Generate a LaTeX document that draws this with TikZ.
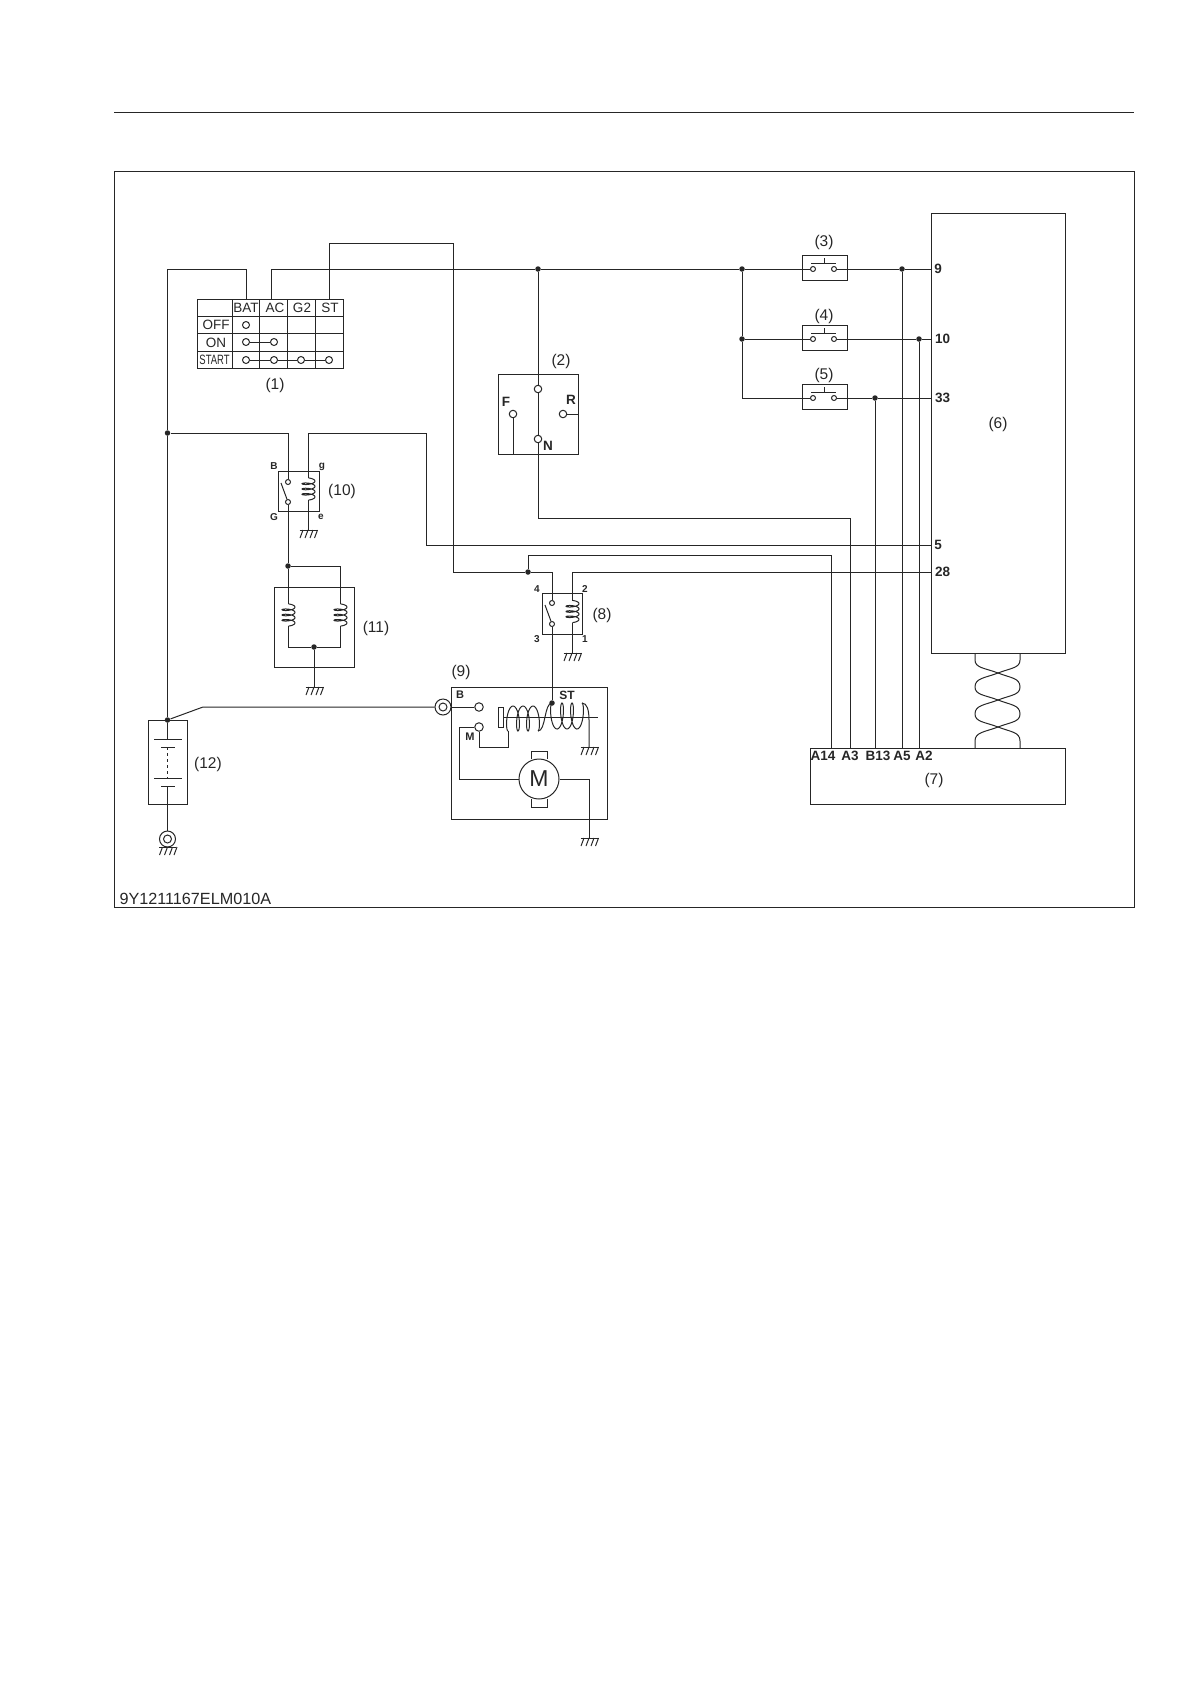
\documentclass[tikz,border=0pt]{standalone}
\usepackage{fontspec}
\setmainfont{Liberation Sans}
\usetikzlibrary{calc}
\newcommand{\relaycoil}[2]{\draw plot[domain=-90:1170,samples=90,smooth] ({#1+.5+6.5*cos(\x)},{#2+(\x-540)*0.0146+1.9*sin(\x)});}

\begin{document}
\begin{tikzpicture}[x=1pt,y=-1pt,line width=1pt,color=black!85,
	box/.style={rectangle,draw,inner sep=0pt},
	term/.style={circle,draw,inner sep=0pt,minimum size=7.5pt},
	jdot/.style={circle,fill,inner sep=0pt,minimum size=5.5pt},
	lbl/.style={inner sep=0pt,yshift=-1.5pt,font=\fontsize{15.5}{16}\selectfont},
	pinl/.style={inner sep=0pt,font=\bfseries\fontsize{13.5}{14}\selectfont},
	tiny/.style={inner sep=0pt,font=\bfseries\fontsize{10}{11}\selectfont},
	gnd/.pic={\draw (-8.5,0) -- (8.5,0);
		\foreach \h in {-5,0,5,9.5} \draw (\h,0) -- (\h-3,8);}]
\useasboundingbox (0,0) rectangle (1190,1684);

% page rule and frame
\draw (114,112) -- (1134,112);
\node[box,minimum width=1020pt,minimum height=736pt] (frame) at (624,539) {};
\node[anchor=west,inner sep=0pt,yshift=-1pt,font=\fontsize{16.2}{17}\selectfont] (code) at (119,898) {9Y1211167ELM010A};

% key switch (1)
\draw (197,299) rectangle (343,368);
\foreach \y in {316,333,351} \draw (197,\y) -- (343,\y);
\foreach \x in {232,259,287,315} \draw (\x,299) -- (\x,368);
\coordinate (bat) at (246,299);
\coordinate (ac) at (271,299);
\coordinate (st) at (329,299);
\node[pinl,font=\fontsize{13.5}{14}\selectfont] (tbat) at (246,308) {BAT};
\node[pinl,font=\fontsize{13.5}{14}\selectfont] (tac) at (275,308) {AC};
\node[pinl,font=\fontsize{13.5}{14}\selectfont] (tg2) at (302,308) {G2};
\node[pinl,font=\fontsize{13.5}{14}\selectfont] (tst) at (330,308) {ST};
\node[pinl,font=\fontsize{13.5}{14}\selectfont] (toff) at (216,325) {OFF};
\node[pinl,font=\fontsize{13.5}{14}\selectfont] (ton) at (216,343) {ON};
\node[pinl,font=\fontsize{13.5}{14}\selectfont] (tstart) at (214.5,360) {\scalebox{.7}[1]{START}};
\node[term,minimum size=7pt] (off1) at (246,325) {};
\node[term,minimum size=7pt] (on1) at (246,342) {};
\node[term,minimum size=7pt] (on2) at (274,342) {};
\node[term,minimum size=7pt] (s1) at (246,360) {};
\node[term,minimum size=7pt] (s2) at (274,360) {};
\node[term,minimum size=7pt] (s3) at (301,360) {};
\node[term,minimum size=7pt] (s4) at (329,360) {};
\draw (on1) -- (on2);
\draw (s1) -- (s2);
\draw (s2) -- (s3);
\draw (s3) -- (s4);
\node[lbl] (l1) at (275,384) {(1)};

% range switch (2)
\node[box,minimum width=80pt,minimum height=80pt] (rng) at (538,414) {};
\node[term] (rt) at (538,389) {};
\node[term] (rn) at (538,439) {};
\node[term] (rf) at (513,414) {};
\node[term] (rr) at (563,414) {};
\node[pinl] (tf) at (506,402) {F};
\node[pinl] (tr) at (571,400) {R};
\node[pinl] (tn) at (548,446) {N};
\node[lbl] (l2) at (561,360) {(2)};
\draw (rt) -- (rn);
\draw (rf) -- (rf |- rng.south);
\draw (rr) -- (rr -| rng.east);

% controller (6), meter (7)
\node[box,minimum width=134pt,minimum height=440pt] (ecu) at (998,433) {};
\node[box,minimum width=255pt,minimum height=56pt] (meter) at (937.5,776) {};
\node[lbl] (l6) at (998,423) {(6)};
\node[lbl] (l7) at (934,779) {(7)};
\node[pinl] (p9) at (938,269) {9};
\node[pinl] (p10) at (942.5,339) {10};
\node[pinl] (p33) at (942.5,398) {33};
\node[pinl] (p5) at (938,545) {5};
\node[pinl] (p28) at (942.5,572) {28};
\node[pinl] (ta14) at (823,756) {A14};
\node[pinl] (ta3) at (850,756) {A3};
\node[pinl] (tb13) at (878,756) {B13};
\node[pinl] (ta5) at (902,756) {A5};
\node[pinl] (ta2) at (924,756) {A2};

% twisted pair
\draw (975,653) -- (975,660) .. controls (975,668) and (985,668) .. (998,673)
	.. controls (1011,678) and (1020,678) .. (1020,687)
	.. controls (1020,695) and (1011,695) .. (998,700)
	.. controls (985,705) and (975,705) .. (975,714)
	.. controls (975,722) and (985,722) .. (998,727)
	.. controls (1011,732) and (1020,732) .. (1020,741) -- (1020,748);
\draw (1020,653) -- (1020,660) .. controls (1020,668) and (1011,668) .. (998,673)
	.. controls (985,678) and (975,678) .. (975,687)
	.. controls (975,695) and (985,695) .. (998,700)
	.. controls (1011,705) and (1020,705) .. (1020,714)
	.. controls (1020,722) and (1011,722) .. (998,727)
	.. controls (985,732) and (975,732) .. (975,741) -- (975,748);

% switches (3) (4) (5)
\foreach \n/\yy in {3/269,4/339,5/398} {
	\node[box,minimum width=45pt,minimum height=25pt] (sw\n) at (824.5,\yy-1.5) {};
	\node[term,minimum size=5pt] (c\n a) at (813,\yy) {};
	\node[term,minimum size=5pt] (c\n b) at (834,\yy) {};
	\draw (811,\yy-6) -- (836,\yy-6);
	\draw (824,\yy-6) -- (824,\yy-11);
}
\node[lbl] (l3) at (824,241) {(3)};
\node[lbl] (l4) at (824,315) {(4)};
\node[lbl] (l5) at (824,374) {(5)};

% junctions on the upper bus
\node[jdot] (j2) at (538,269) {};
\node[jdot] (j3) at (742,269) {};
\node[jdot] (j4) at (742,339) {};
\node[jdot] (ja5) at (902,269) {};
\node[jdot] (ja2) at (919,339) {};
\node[jdot] (jb13) at (875,398) {};
\coordinate (k5) at (742,398);
\draw (bat) -- (246,269) -- (167.5,269);
\draw (ac) |- (j2);
\draw (j2) -- (j3);
\draw (j3) -- (c3a);
\draw (c3b) -- (ja5);
\draw (ja5) -- (ja5 -| ecu.west);
\draw (j3) -- (j4);
\draw (j4) -- (c4a);
\draw (c4b) -- (ja2);
\draw (ja2) -- (ja2 -| ecu.west);
\draw (j4) -- (k5) -- (c5a);
\draw (c5b) -- (jb13);
\draw (jb13) -- (jb13 -| ecu.west);
\draw (ja5) -- (ja5 |- meter.north);
\draw (ja2) -- (ja2 |- meter.north);
\draw (jb13) -- (jb13 |- meter.north);
\draw (j2) -- (rt);
\draw (rn) -- (538,518) -- (850,518) -- (850,748);

% relay (10)
\node[box,minimum width=41pt,minimum height=40pt] (rel10) at (298.5,491) {};
\node[term,minimum size=5pt] (r10a) at (288,482) {};
\node[term,minimum size=5pt] (r10b) at (288,502) {};
\node[tiny] (tb10) at (274,466) {B};
\node[tiny] (tg10) at (322,467) {g};
\node[tiny] (tgg10) at (274,517) {G};
\node[tiny] (te10) at (321,517) {e};
\node[lbl] (l10) at (342,490) {(10)};
\draw (281,483) -- (r10b);
\relaycoil{308}{489}
\coordinate (g10) at (308,530);
\draw (308,500) -- (g10);
\pic at (g10) {gnd};

% glow plugs (11)
\node[box,minimum width=80pt,minimum height=80pt] (glow) at (314,627) {};
\node[jdot] (j11t) at (288,566) {};
\node[jdot] (j11b) at (314,647) {};
\node[lbl] (l11) at (376,627) {(11)};
\draw (r10b) -- (j11t);
\draw (j11t) -- (288,604);
\draw (j11t) -- (340,566) -- (340,604);
\relaycoil{288}{615}
\relaycoil{340}{615}
\draw (288,626) -- (288,647) -- (j11b);
\draw (340,626) -- (340,647) -- (j11b);
\coordinate (g11) at (314,687);
\draw (j11b) -- (g11);
\pic at (g11) {gnd};

% relay (8)
\node[box,minimum width=40pt,minimum height=41pt] (rel8) at (562,613.5) {};
\node[term,minimum size=5pt] (r8a) at (552,603) {};
\node[term,minimum size=5pt] (r8b) at (552,624) {};
\node[tiny] (t84) at (537,589) {4};
\node[tiny] (t82) at (585,589) {2};
\node[tiny] (t83) at (537,639) {3};
\node[tiny] (t81) at (585,639) {1};
\node[lbl] (l8) at (602,614) {(8)};
\draw (545,605) -- (r8b);
\relaycoil{572}{611.5}
\coordinate (g8) at (572,653);
\draw (572,622.5) -- (g8);
\pic at (g8) {gnd};

% starter (9)
\node[box,minimum width=156pt,minimum height=132pt] (start) at (529,753) {};
\node[lbl] (l9) at (461,671) {(9)};
\node[term,minimum size=16pt] (ring) at (443,707) {};
\node[term,minimum size=8pt] (ringi) at (443,707) {};
\node[term,minimum size=8.5pt] (tb) at (479,707) {};
\node[term,minimum size=8.5pt] (tm) at (479,727) {};
\node[tiny,font=\bfseries\fontsize{11}{12}\selectfont] (tbb) at (460,695) {B};
\node[tiny,font=\bfseries\fontsize{11}{12}\selectfont] (tmm) at (470,737) {M};
\node[tiny,font=\bfseries\fontsize{12}{13}\selectfont] (tst9) at (567,695) {ST};
\node[circle,draw,fill=white,inner sep=0pt,minimum size=40pt,font=\fontsize{23}{24}\selectfont] (motor) at (539,779) {M};
\draw (531,759) -- (531,751) -- (547,751) -- (547,759);
\draw (531,799) -- (531,807) -- (547,807) -- (547,799);
\draw (ring) -- (tb);
\draw (tm.west) -- (459,727) -- (459,779) -- (motor);
\draw (tm) -- (479,747) -- (508,747) -- (508,731);
\draw (498,707) rectangle (503,727);
\draw (503,717) -- (598,717);
\draw plot[domain=0:1080,samples=90,smooth] ({508+\x/36-3.6*sin(\x)},{718.5+12.5*cos(\x)});
\draw (538,731) .. controls (546,731) and (544,703) .. (552,703);
\draw plot[domain=0:1080,samples=90,smooth] ({552+\x/36-3.6*sin(\x)},{716-13*cos(\x)});
\coordinate (g9a) at (589,747);
\draw (582,703) .. controls (587,703) and (589,710) .. (589,720) -- (g9a);
\pic at (g9a) {gnd};
\coordinate (g9b) at (589,838);
\draw (motor) -- (589,779) -- (g9b);
\pic at (g9b) {gnd};
\node[jdot] (j9) at (552,703) {};
\draw (r8b) -- (j9);

% wires to relays and controller
\node[jdot] (j8) at (528,572) {};
\node[jdot] (j10) at (167.5,433) {};
\draw (st) -- (329,243) -- (453,243) -- (453,572) -- (j8);
\draw (j8) -- (552,572) -- (r8a);
\draw (j8) -- (528,555) -- (831,555) -- (831,748);
\draw (572,600.5) -- (572,572) -- (p28 -| ecu.west);
\draw (j10) -- (288,433) -- (r10a);
\draw (308,478) -- (308,433) -- (426,433) -- (426,545) -- (p5 -| ecu.west);

% battery (12)
\node[box,minimum width=39pt,minimum height=84pt] (batt) at (167.5,762) {};
\node[jdot] (j12) at (167.5,720) {};
\node[lbl] (l12) at (208,763) {(12)};
\draw (167.5,269) -- (j10);
\draw (j10) -- (j12);
\draw (j12) -- (203,707) -- (ring);
\draw (j12) -- (167.5,739);
\draw (154,739) -- (182,739);
\draw (161,747) -- (175,747);
\draw[dashed] (167.5,747) -- (167.5,778);
\draw (154,778) -- (182,778);
\draw (161,786) -- (175,786);
\node[term,minimum size=16pt] (bgnd) at (167.5,839) {};
\node[term,minimum size=8pt] (bgndi) at (167.5,839) {};
\draw (167.5,786) -- (bgnd);
\coordinate (g12) at (167.5,847);
\pic at (g12) {gnd};
\end{tikzpicture}
\end{document}
